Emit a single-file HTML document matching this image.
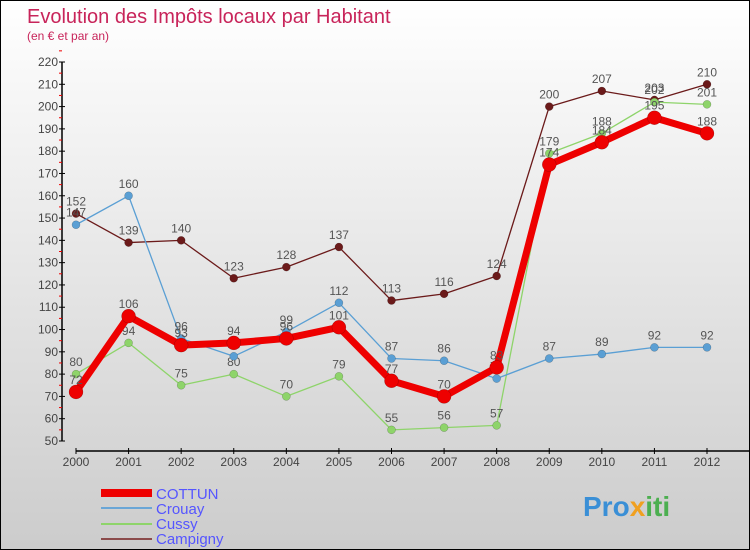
<!DOCTYPE html>
<html><head><meta charset="utf-8"><style>
body{margin:0}
#c{width:748px;height:548px;border:1px solid #000;background:linear-gradient(#fff,#ccc);position:relative;font-family:"Liberation Sans",sans-serif;overflow:hidden}
</style></head><body>
<div id="c">
<svg id="s" width="748" height="548" xmlns="http://www.w3.org/2000/svg">
<text x="26" y="22" font-size="20" fill="#c8245a">Evolution des Impôts locaux par Habitant</text>
<text x="26" y="39" font-size="12" fill="#c8245a">(en € et par an)</text>
<g id="axes"></g><g id="series"></g>
<g>
<line x1="100" y1="492" x2="151" y2="492" stroke="#e00" stroke-width="8"/>
<text x="155" y="498" font-size="15" fill="#55f">COTTUN</text>
<line x1="100" y1="507" x2="151" y2="507" stroke="#6aa6d6" stroke-width="2"/>
<text x="155" y="513" font-size="15" fill="#55f">Crouay</text>
<line x1="100" y1="523" x2="151" y2="523" stroke="#8ed46a" stroke-width="2"/>
<text x="155" y="528" font-size="15" fill="#55f">Cussy</text>
<line x1="100" y1="538" x2="151" y2="538" stroke="#8b4b4b" stroke-width="2"/>
<text x="155" y="543" font-size="15" fill="#55f">Campigny</text>
</g>
<text x="582" y="515" font-size="28" font-weight="bold" fill="#3a8fd6">Pro<tspan fill="#f0a020">x</tspan><tspan fill="#4caf50">iti</tspan></text>
</svg>
</div>
<script>
const years=[2000,2001,2002,2003,2004,2005,2006,2007,2008,2009,2010,2011,2012];
const yTicks=[50,60,70,80,90,100,110,120,130,140,150,160,170,180,190,200,210,220];
const cottun=[72,106,93,94,96,101,77,70,83,174,184,195,188];
const crouay=[147,160,96,88,99,112,87,86,78,87,89,92,92];
const cussy=[80,94,75,80,70,79,55,56,57,179,188,202,201];
const campigny=[152,139,140,123,128,137,113,116,124,200,207,203,210];
const NS="http://www.w3.org/2000/svg";
const X=i=>75+i*(631/12);
const Y=v=>440-(v-50)*(379/170);
function mk(t,a,p){const e=document.createElementNS(NS,t);for(const k in a)e.setAttribute(k,a[k]);p.appendChild(e);return e;}
const ax=document.getElementById('axes');
let yl=mk('line',{x1:61,y1:Y(220),x2:61,y2:Y(50),stroke:'#000','stroke-width':1.5},ax);


yTicks.forEach(v=>{mk('line',{x1:58,y1:Y(v),x2:64,y2:Y(v),stroke:'#000'},ax);
mk('line',{x1:58,y1:Y(v+5),x2:61,y2:Y(v+5),stroke:'#e00'},ax);
const t=mk('text',{x:57,y:Y(v)+4,'font-size':12,fill:'#444','text-anchor':'end'},ax);t.textContent=v;

});
let xl=mk('line',{x1:75,y1:450,x2:748,y2:450,stroke:'#000','stroke-width':1.5},ax);


years.forEach((y,i)=>{mk('line',{x1:X(i),y1:447,x2:X(i),y2:453,stroke:'#000'},ax);
const t=mk('text',{x:X(i),y:465,'font-size':12,fill:'#444','text-anchor':'middle'},ax);t.textContent=y;

});
const sg=document.getElementById('series');
function draw(d,name,col,w,r){
const g=mk('g',{},sg);


mk('polyline',{points:d.map((v,i)=>X(i)+','+Y(v)).join(' '),fill:'none',stroke:col,'stroke-width':w,'stroke-linejoin':'round'},g);
d.forEach((v,i)=>{const c=mk('circle',{cx:X(i),cy:Y(v),r:r,fill:col,stroke:'rgba(0,0,0,0.3)','stroke-width':0.5},g);


const t=mk('text',{x:X(i),y:Y(v)-8,'font-size':12,fill:'#555','text-anchor':'middle'},g);t.textContent=v;

});}
draw(campigny,'campigny','#6b1a1a',1.3,4);
draw(cussy,'cussy','#8ed46a',1.3,4);
draw(crouay,'crouay','#5a9fd4',1.3,4);
draw(cottun,'cottun','#e00',7,7);
</script>
</body></html>
